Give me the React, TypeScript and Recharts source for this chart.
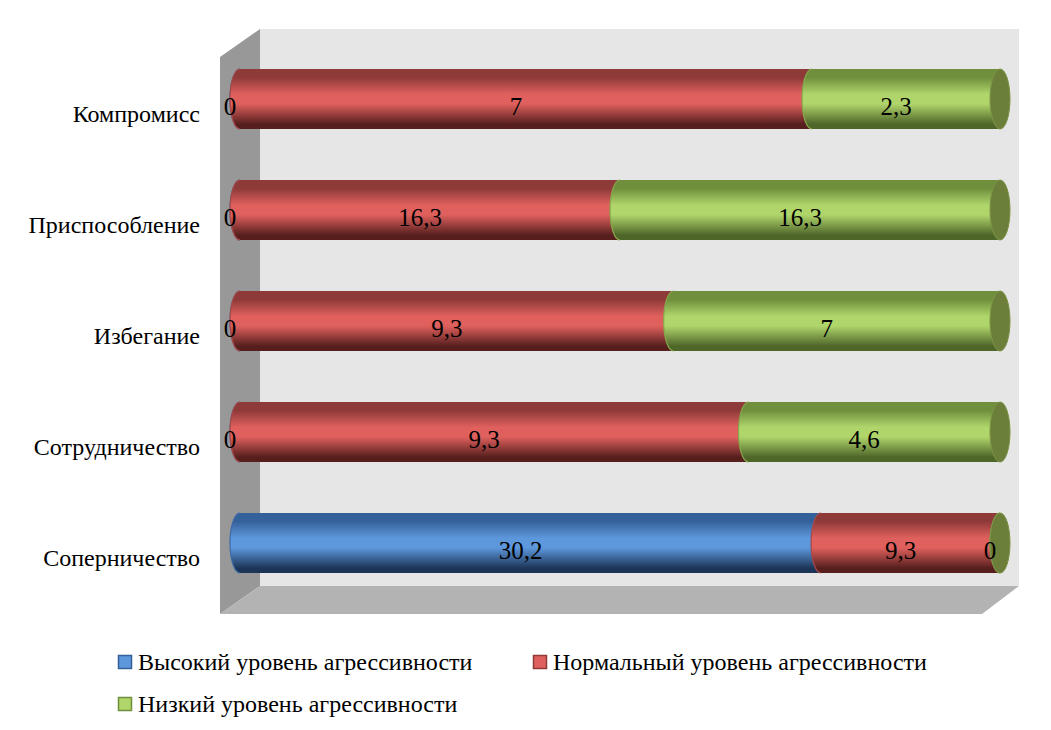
import { BarChart, Bar, XAxis, YAxis, LabelList, Customized } from 'recharts'

const categories = ['Компромисс', 'Приспособление', 'Избегание', 'Сотрудничество', 'Соперничество']
const highLevel = [0, 0, 0, 0, 30.2]
const normalLevel = [7, 16.3, 9.3, 9.3, 9.3]
const lowLevel = [2.3, 16.3, 7, 4.6, 0]

const seriesNames = [
  'Высокий уровень агрессивности',
  'Нормальный уровень агрессивности',
  'Низкий уровень агрессивности'
]

const data = categories.map((name, i) => ({
  name,
  high: highLevel[i],
  normal: normalLevel[i],
  low: lowLevel[i]
}))

const W = 1051
const H = 730
const MARGIN = { top: 43, right: 51, bottom: 132, left: 20 }
const AXIS_W = 220
const PLOT_LEFT = MARGIN.left + AXIS_W
const PLOT_RIGHT = W - MARGIN.right
const RX = 10
const FONT = "'Liberation Serif', 'Times New Roman', Times, Tinos, 'Noto Serif', 'DejaVu Serif', FreeSerif, serif"
const TXT = { fontFamily: FONT }

const COLORS = {
  high: { top: '#35619a', mid: '#5d97dc', bottom: '#1c3556', edge: '#3b6aa8' },
  normal: { top: '#8e3a39', mid: '#df605d', bottom: '#561f1e', edge: '#a84846' },
  low: { top: '#6f8f3c', mid: '#b0d56b', bottom: '#4f6629', edge: '#86a84c' }
}
const END_CAP = '#6b7f3b'

const fmt = (v: number) => String(v).replace('.', ',')

function Gradients() {
  return (
    <defs>
      {Object.entries(COLORS).map(([k, c]) => (
        <linearGradient key={k} id={`cyl-${k}`} x1="0" y1="0" x2="0" y2="1">
          <stop offset="0%" stopColor={c.top} />
          <stop offset="14%" stopColor={c.top} />
          <stop offset="42%" stopColor={c.mid} />
          <stop offset="58%" stopColor={c.mid} />
          <stop offset="92%" stopColor={c.bottom} />
          <stop offset="100%" stopColor={c.bottom} />
        </linearGradient>
      ))}
    </defs>
  )
}

// 3D box walls behind the bars
function Walls() {
  const backL = PLOT_LEFT + 20
  const backR = PLOT_RIGHT + 19
  const backT = 29
  const backB = 586
  const frontL = PLOT_LEFT - 20
  const depthY = 28
  return (
    <g>
      <Gradients />
      <rect x={backL} y={backT} width={backR - backL} height={backB - backT} fill="#e6e6e6" />
      <polygon
        points={`${frontL},${backT + depthY} ${backL},${backT} ${backL},${backB} ${frontL},${backB + depthY}`}
        fill="#989898"
      />
      <polygon
        points={`${frontL},${backB + depthY} ${backL},${backB} ${backR},${backB} ${backR - 37},${backB + depthY}`}
        fill="#b3b3b3"
      />
    </g>
  )
}

function Legend3D() {
  const items = [
    { name: seriesNames[0], c: COLORS.high, x: 118, y: 655 },
    { name: seriesNames[1], c: COLORS.normal, x: 533, y: 655 },
    { name: seriesNames[2], c: COLORS.low, x: 118, y: 697 }
  ]
  return (
    <g>
      {items.map((it) => (
        <g key={it.name}>
          <rect x={it.x + 0.5} y={it.y + 0.5} width={13} height={13} fill={it.c.mid} stroke={it.c.top} strokeWidth={1.5} />
          <text x={it.x + 20} y={it.y + 15} style={TXT} fontSize={24} fill="#000">
            {it.name}
          </text>
        </g>
      ))}
    </g>
  )
}

function makeShape(key: 'high' | 'normal' | 'low', endCap: boolean) {
  return (props: any) => {
    const { x, y, width, height } = props
    if (height == null || isNaN(x)) return null
    const w = Math.max(0, width || 0)
    const ry = height / 2
    const d = `M${x},${y} L${x + w},${y} A${RX},${ry} 0 0 1 ${x + w},${y + height} L${x},${y + height} A${RX},${ry} 0 0 1 ${x},${y} Z`
    const seam = `M${x},${y + height} A${RX},${ry} 0 0 1 ${x},${y}`
    return (
      <g>
        <path d={d} fill={`url(#cyl-${key})`} />
        <path d={seam} fill="none" stroke={COLORS[key].edge} strokeWidth={1.2} />
        {endCap && (
          <ellipse cx={x + w} cy={y + ry} rx={RX} ry={ry} fill={END_CAP} stroke="#7c9446" strokeWidth={1} />
        )}
      </g>
    )
  }
}

function makeLabel(values: number[]) {
  return (props: any) => {
    const { x, y, width, height, index } = props
    const v = values[index]
    if (v == null) return null
    return (
      <text
        x={x + (width || 0) / 2 - 10}
        y={y + height / 2 + 16}
        textAnchor="middle"
        style={TXT}
        fontSize={25}
        fill="#000"
      >
        {fmt(v)}
      </text>
    )
  }
}

function CategoryTick(props: any) {
  const { y, payload } = props
  return (
    <text x={PLOT_LEFT - 40} y={y + 23} textAnchor="end" style={TXT} fontSize={24} fill="#000">
      {payload.value}
    </text>
  )
}

export default function App() {
  return (
    <div style={{ position: 'absolute', left: 0, top: 0, background: '#fff', fontFamily: FONT }}>
      <BarChart
        width={W}
        height={H}
        data={data}
        layout="vertical"
        stackOffset="expand"
        margin={MARGIN}
        barSize={60}
      >
        <Customized component={<Walls />} />
        <XAxis type="number" domain={[0, 1]} hide />
        <YAxis
          type="category"
          dataKey="name"
          width={AXIS_W}
          axisLine={false}
          tickLine={false}
          tick={<CategoryTick />}
          interval={0}
        />
        <Bar dataKey="high" stackId="a" shape={makeShape('high', false)} isAnimationActive={false}>
          <LabelList dataKey="high" content={makeLabel(highLevel)} />
        </Bar>
        <Bar dataKey="normal" stackId="a" shape={makeShape('normal', false)} isAnimationActive={false}>
          <LabelList dataKey="normal" content={makeLabel(normalLevel)} />
        </Bar>
        <Bar dataKey="low" stackId="a" shape={makeShape('low', true)} isAnimationActive={false}>
          <LabelList dataKey="low" content={makeLabel(lowLevel)} />
        </Bar>
        <Customized component={<Legend3D />} />
      </BarChart>
    </div>
  )
}
